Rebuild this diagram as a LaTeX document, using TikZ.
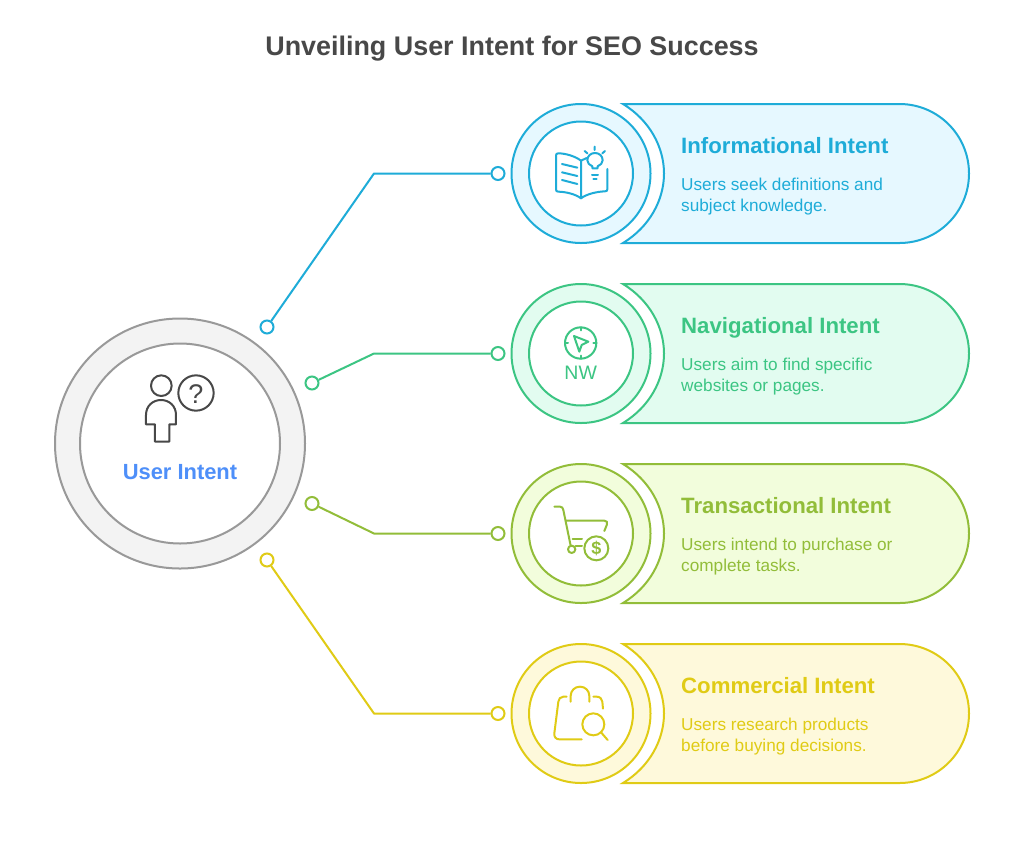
\documentclass[tikz,border=0pt]{standalone}
\usepackage{fontspec}
\setmainfont{Liberation Sans}
\definecolor{cblue}{HTML}{1EACD8}\definecolor{fblue}{HTML}{E6F8FF}
\definecolor{cgreen}{HTML}{3CC583}\definecolor{fgreen}{HTML}{E2FCF0}
\definecolor{clime}{HTML}{92BD39}\definecolor{flime}{HTML}{F2FDDC}
\definecolor{cyel}{HTML}{E0CB15}\definecolor{fyel}{HTML}{FEF9DB}
\definecolor{cgrey}{HTML}{999999}\definecolor{fgrey}{HTML}{F3F3F3}
\definecolor{ink}{HTML}{484848}\definecolor{ublue}{HTML}{4E8FF9}
\tikzset{
  dot/.style={circle,draw=#1,fill=white,line width=2pt,minimum size=13pt,inner sep=0pt},
  wire/.style={draw=#1,line width=2pt,line join=round},
  ringo/.style={circle,draw=#1,line width=2pt,minimum size=139pt,inner sep=0pt},
  ringi/.style={circle,draw=#1,fill=white,line width=2pt,minimum size=104pt,inner sep=0pt},
  banner/.style={draw=#1,line width=2pt,line join=miter},
  headtxt/.style={text=#1,anchor=base west,inner sep=0pt,font=\fontsize{22.2}{27}\selectfont\bfseries},
  desctxt/.style={text=#1,anchor=base west,inner sep=0pt,font=\fontsize{17.2}{21}\selectfont,align=left},
  icon/.style={draw=#1,line width=2pt,line cap=round,line join=round},
  zoomed/.style={x=0.3333pt,y=-0.3333pt},
}
\newcommand{\rowdraw}[7]{%
  \path[banner=#3,fill=#4] (623,#2-69.5) -- (899.5,#2-69.5) arc[start angle=90,end angle=-90,radius=69.5pt] -- (623,#2+69.5)
     .. controls (650,#2+53) and (664,#2+26) .. (664,#2) .. controls (664,#2-26) and (650,#2-53) .. cycle;
  \node[ringo=#3,fill=#4] (o#1) at (581,#2) {};
  \node[ringi=#3] (i#1) at (581,#2) {};
  \node[dot=#3] (e#1) at (498,#2) {};
  \node[headtxt=#3] (h#1) at (681,#2-20) {#5};
  \node[desctxt=#3] (p#1) at (681,#2+16.5) {#6};
  \node[desctxt=#3] (q#1) at (681,#2+37.5) {#7};
}
\begin{document}
\begin{tikzpicture}[x=1pt,y=-1pt]
\useasboundingbox (0,0) rectangle (1024,852);
\fill[white] (0,0) rectangle (1024,852);
\node[text=ink,font=\fontsize{26.9}{32}\selectfont\bfseries,inner sep=0pt] (title) at (512,48.5) {Unveiling User Intent for SEO Success};

\rowdraw{a}{173.5}{cblue}{fblue}{Informational Intent}{Users seek definitions and}{subject knowledge.}
\rowdraw{b}{353.5}{cgreen}{fgreen}{Navigational Intent}{Users aim to find specific}{websites or pages.}
\rowdraw{c}{533.5}{clime}{flime}{Transactional Intent}{Users intend to purchase or}{complete tasks.}
\rowdraw{d}{713.5}{cyel}{fyel}{Commercial Intent}{Users research products}{before buying decisions.}

% centre
\node[circle,draw=cgrey,fill=fgrey,line width=2pt,minimum size=250pt,inner sep=0pt] (co) at (180,443.5) {};
\node[circle,draw=cgrey,fill=white,line width=2pt,minimum size=200pt,inner sep=0pt] (ci) at (180,443.5) {};
\node[text=ublue,font=\fontsize{21.9}{25}\selectfont\bfseries,inner sep=0pt] (ut) at (180,472.5) {User Intent};

% connectors
\node[dot=cblue] (sa) at (267,327) {};
\node[dot=cgreen] (sb) at (312,383) {};
\node[dot=clime] (sc) at (312,503.5) {};
\node[dot=cyel] (sd) at (267,560) {};
\coordinate (ba) at (374,173.5);
\coordinate (bb) at (374,353.5);
\coordinate (bc) at (374,533.5);
\coordinate (bd) at (374,713.5);
\draw[wire=cblue] (sa) -- (ba) -- (ea);
\draw[wire=cgreen] (sb) -- (bb) -- (eb);
\draw[wire=clime] (sc) -- (bc) -- (ec);
\draw[wire=cyel] (sd) -- (bd) -- (ed);

% user icon
\begin{scope}[shift={(110,360)},zoomed]
 \draw[icon=ink] (154,77) circle[radius=31*0.3333pt];
 \draw[icon=ink] (258,99) circle[radius=53*0.3333pt];
 \draw[icon=ink] (108,193) -- (135,193) -- (135,245) -- (178,245) -- (178,193) -- (198,193) -- (198,165)
   .. controls (198,138) and (178,120) .. (153,120) .. controls (128,120) and (108,138) .. (108,165) -- cycle;
 \node[text=ink,inner sep=0pt,font=\fontsize{27}{30}\selectfont] (qm) at (258,102) {?};
\end{scope}

% book
\begin{scope}[shift={(500,90)},zoomed]
 \draw[icon=cblue] (243,325) -- (243,212) .. controls (225,198) and (195,190) .. (175,190) .. controls (170,190) and (168,192) .. (168,197)
   -- (168,298) .. controls (168,303) and (170,305) .. (175,305) .. controls (200,306) and (225,312) .. (243,325)
   .. controls (260,312) and (290,305) .. (315,304) .. controls (320,304) and (322,302) .. (322,298) -- (322,237);
 \draw[icon=cblue] (243,212) -- (260,204);
 \draw[icon=cblue] (186,222) -- (232,233) (186,247) -- (232,258) (186,270) -- (232,282);
 \draw[icon=cblue] (277,235) -- (293,235) -- (293,229) .. controls (302,225) and (308,219) .. (308,211)
   .. controls (308,198) and (298,189) .. (285,189) .. controls (272,189) and (262,198) .. (262,211)
   .. controls (262,219) and (268,225) .. (277,229) -- cycle;
 \draw[icon=cblue] (276,254) -- (294,254) (280,267) -- (290,267);
 \draw[icon=cblue] (284,170) -- (284,180) (254,183) -- (262,190) (315,183) -- (307,190);
\end{scope}

% compass
\begin{scope}[shift={(500,270)},zoomed]
 \draw[icon=cgreen] (242,219) circle[radius=47*0.3333pt];
 \draw[icon=cgreen] (242,172) -- (242,181) (242,266) -- (242,257) (195,219) -- (204,219) (289,219) -- (280,219);
 \draw[icon=cgreen] (222,198) -- (265,215) -- (245,225) -- (238,245) -- cycle;
 \node[text=cgreen,inner sep=0pt,font=\fontsize{19.5}{22}\selectfont] (nw) at (242,309) {NW};
\end{scope}

% cart
\begin{scope}[shift={(500,450)},zoomed]
 \draw[icon=clime] (163,170) -- (180,170) .. controls (186,170) and (189,174) .. (190,180) -- (212,287);
 \draw[icon=clime] (198,212) -- (313,212) .. controls (321,212) and (323,217) .. (321,223) -- (313,243);
 \draw[icon=clime] (218,268) -- (246,268) (227,288) -- (246,288);
 \draw[icon=clime] (215,298) circle[radius=11*0.3333pt];
 \draw[icon=clime] (289,295) circle[radius=36*0.3333pt];
 \node[text=clime,inner sep=0pt,font=\fontsize{18}{18}\selectfont\bfseries] (dollar) at (289,295) {\$};
\end{scope}

% bag
\begin{scope}[shift={(500,630)},zoomed]
 \draw[icon=cyel] (212,215) -- (212,198) .. controls (212,182) and (224,170) .. (240,170) .. controls (256,170) and (268,182) .. (268,198) -- (268,215);
 \draw[icon=cyel] (200,200) -- (190,200) .. controls (181,200) and (176,207) .. (175,215) -- (163,310) .. controls (162,321) and (168,328) .. (178,328) -- (245,328);
 \draw[icon=cyel] (280,200) -- (290,200) .. controls (300,200) and (306,207) .. (307,215) -- (309,236);
 \draw[icon=cyel] (280,283) circle[radius=33*0.3333pt];
 \draw[icon=cyel] (304,308) -- (323,330);
\end{scope}
\end{tikzpicture}
\end{document}
